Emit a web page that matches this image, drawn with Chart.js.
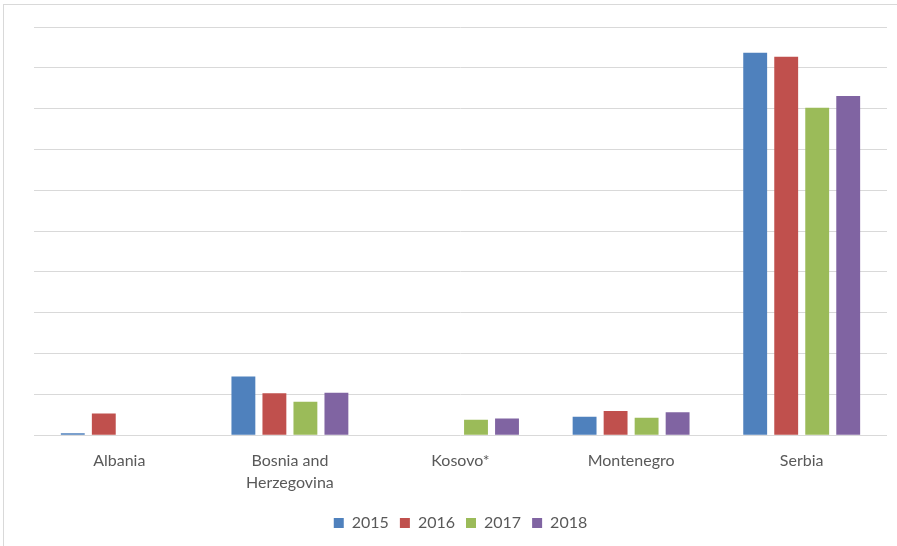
<!DOCTYPE html>
<html>
<head>
<meta charset="utf-8">
<script src="https://cdn.jsdelivr.net/npm/chart.js@4/dist/chart.umd.min.js"></script>
<style>
    html, body { margin: 0; padding: 0; background: #fff; overflow: hidden; }
    #wrap { position: relative; width: 897px; height: 546px; }
    #frame { position: absolute; left: 3px; top: 4px; width: 900px; height: 560px; border: 1px solid #d9d9d9; box-sizing: border-box; }
    canvas { position: absolute; left: 0; top: 0; }
</style>
</head>
<body>
<div id="wrap">
    <div id="frame"></div>
    <canvas id="chart" width="897" height="546"></canvas>
</div>
<script>
// Data kategori dan nilai per tahun
const countries = ["Albania", ["Bosnia and", "Herzegovina"], "Kosovo*", "Montenegro", "Serbia"];
const years = ["2015", "2016", "2017", "2018"];
const values2015 = [0.05, 1.44, null, 0.45, 9.37];
const values2016 = [0.53, 1.03, null, 0.59, 9.27];
const values2017 = [null, 0.82, 0.38, 0.43, 8.02];
const values2018 = [null, 1.04, 0.41, 0.56, 8.31];
const colors = ["#4f81bd", "#c0504d", "#9bbb59", "#8064a2"];

const seriesValues = [values2015, values2016, values2017, values2018];
const fontFamily = "Lato, 'Liberation Sans', sans-serif";

new Chart(document.getElementById("chart"), {
    type: "bar",
    data: {
        labels: countries,
        datasets: years.map((y, i) => ({
            label: y,
            data: seriesValues[i],
            backgroundColor: colors[i],
            borderWidth: 0,
            categoryPercentage: 0.727,
            barPercentage: 0.77,
        })),
    },
    options: {
        responsive: false,
        animation: false,
        layout: {
            padding: { left: 34, right: 10, top: 27, bottom: 5 },
        },
        plugins: {
            tooltip: { enabled: false },
            legend: {
                position: "bottom",
                labels: {
                    boxWidth: 10,
                    boxHeight: 10,
                    padding: 11,
                    color: "#595959",
                    font: { family: fontFamily, size: 16 },
                },
            },
        },
        scales: {
            y: {
                min: 0,
                max: 10,
                ticks: { display: false, stepSize: 1 },
                grid: { color: "#d9d9d9", lineWidth: 1, drawTicks: false },
                border: { display: false },
            },
            x: {
                grid: { display: false },
                border: { display: false },
                afterFit: (scale) => { scale.height += 4; }, // ruang ekstra di bawah label
                ticks: {
                    color: "#595959",
                    padding: 6,
                    maxRotation: 0,
                    font: { family: fontFamily, size: 16, lineHeight: 1.4 },
                },
            },
        },
    },
});
</script>
</body>
</html>
